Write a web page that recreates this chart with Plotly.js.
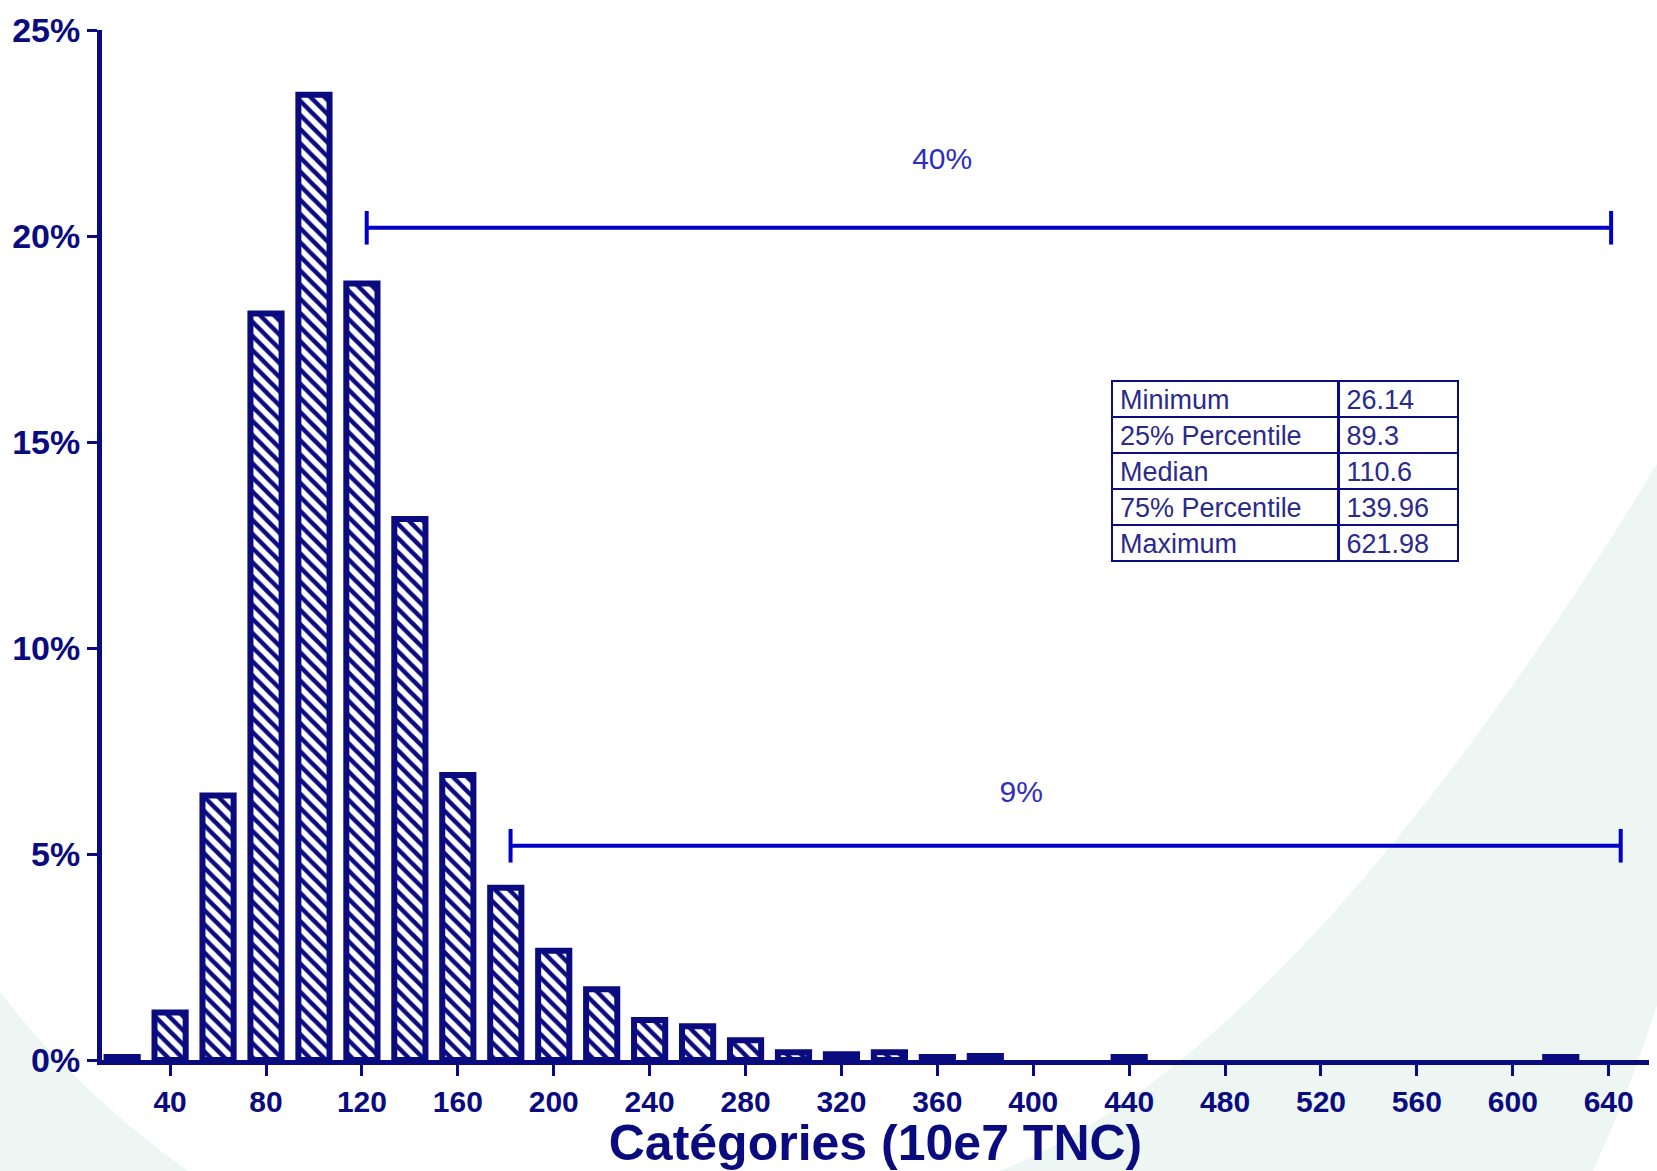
<!DOCTYPE html>
<html>
<head>
<meta charset="utf-8">
<script src="https://cdn.plot.ly/plotly-3.0.1.min.js"></script>
<style>
  html, body { margin: 0; padding: 0; background: #ffffff; }
  #chart { width: 1657px; height: 1171px; }
</style>
</head>
<body>
<div id="chart"></div>
<script>
// ---- data ----
const categories = [20, 40, 60, 80, 100, 120, 140, 160, 180, 200, 220, 240, 260, 280, 300,
                    320, 340, 360, 380, 400, 420, 440, 460, 480, 500, 520, 540, 560, 580, 600, 620];
const percentages = [0.07, 1.15, 6.42, 18.12, 23.43, 18.85, 13.13, 6.92, 4.18, 2.65, 1.72, 0.97, 0.82, 0.48, 0.19,
                     0.14, 0.19, 0.07, 0.10, 0, 0, 0.07, 0, 0, 0, 0, 0, 0, 0, 0, 0.07];
const xTickValues = [40, 80, 120, 160, 200, 240, 280, 320, 360, 400, 440, 480, 520, 560, 600, 640];
const yTickValues = [0, 5, 10, 15, 20, 25];
const yTickLabels = ['0%', '5%', '10%', '15%', '20%', '25%'];

const bracketLabels = ['40%', '9%'];
const bracketStart = [122, 182];
const bracketEnd = [641, 645];
const bracketLevel = [20.2, 5.2];
const bracketLabelX = [362, 395];
const bracketLabelY = [21.8, 6.44];

const statNames = ['Minimum', '25% Percentile', 'Median', '75% Percentile', 'Maximum'];
const statValues = ['26.14', '89.3', '110.6', '139.96', '621.98'];

// ---- styling ----
const NAVY = '#0b0b80';
const BLUE = '#0000c8';
const FONT = 'Liberation Sans, Arial, sans-serif';
const W = 1657, H = 1171;
const M = {l: 102, r: 8, t: 30, b: 111};
const PW = W - M.l - M.r, PH = H - M.t - M.b;
function px(xp) { return ((xp - M.l) / PW).toFixed(4); }
function py(yp) { return ((H - M.b - yp) / PH).toFixed(4); }

const xs = [], ys = [];
categories.forEach((c, i) => { if (percentages[i] > 0) { xs.push(c); ys.push(percentages[i]); } });

const traces = [];
traces.push({
  type: 'bar',
  x: xs,
  y: ys,
  width: 13,
  marker: {
    color: 'white',
    line: {color: NAVY, width: 6},
    pattern: {shape: '\\', fgcolor: NAVY, bgcolor: 'white', size: 10, solidity: 0.45, fillmode: 'replace'}
  },
  hoverinfo: 'x+y',
  showlegend: false
});

for (let i = 0; i < bracketLabels.length; i++) {
  traces.push({
    type: 'scatter',
    mode: 'lines+markers',
    x: [bracketStart[i], bracketEnd[i]],
    y: [bracketLevel[i], bracketLevel[i]],
    line: {color: BLUE, width: 4},
    marker: {symbol: 'line-ns', size: 24, line: {color: BLUE, width: 4}},
    showlegend: false,
    hoverinfo: 'skip',
    cliponaxis: false
  });
}
traces.push({
  type: 'scatter',
  mode: 'text',
  x: bracketLabelX,
  y: bracketLabelY,
  text: bracketLabels,
  textfont: {family: FONT, size: 30, color: '#2e2ec0'},
  showlegend: false,
  hoverinfo: 'skip'
});

traces.push({
  type: 'table',
  domain: {x: [0.6529, 0.8772], y: [0.4825, 0.6592]},
  columnwidth: [227, 120],
  header: {
    values: [statNames[0], statValues[0]],
    align: 'left',
    height: 36,
    line: {color: NAVY, width: 2.5},
    fill: {color: 'white'},
    font: {family: FONT, size: 27, color: '#2a2a8c'}
  },
  cells: {
    values: [statNames.slice(1), statValues.slice(1)],
    align: 'left',
    height: 36,
    line: {color: NAVY, width: 2.5},
    fill: {color: 'white'},
    font: {family: FONT, size: 27, color: '#2a2a8c'}
  }
});

const bg = '#edf6f2';
const shapes = [
  {
    type: 'path', xref: 'paper', yref: 'paper', layer: 'below',
    path: 'M ' + px(0) + ',' + py(992) + ' Q ' + px(75) + ',' + py(1090) + ' ' + px(188) + ',' + py(1171) +
          ' L ' + px(0) + ',' + py(1171) + ' Z',
    fillcolor: bg, line: {width: 0}
  },
  {
    type: 'path', xref: 'paper', yref: 'paper', layer: 'below',
    path: 'M ' + px(1657) + ',' + py(464) + ' Q ' + px(1300) + ',' + py(1050) + ' ' + px(1000) + ',' + py(1171) +
          ' L ' + px(1593) + ',' + py(1171) + ' Q ' + px(1630) + ',' + py(1090) + ' ' + px(1657) + ',' + py(1005) + ' Z',
    fillcolor: bg, line: {width: 0}
  }
];

const layout = {
  width: W, height: H,
  margin: M,
  paper_bgcolor: 'white',
  plot_bgcolor: 'rgba(0,0,0,0)',
  showlegend: false,
  bargap: 0,
  shapes: shapes,
  xaxis: {
    range: [11.6, 656.8],
    tickmode: 'array',
    tickvals: xTickValues,
    ticktext: xTickValues.map(String),
    ticks: 'outside', ticklen: 11, tickwidth: 3, tickcolor: NAVY,
    showline: true, linewidth: 5, linecolor: NAVY,
    showgrid: false, zeroline: false,
    tickfont: {family: FONT, size: 30, color: NAVY, weight: 'bold'},
    title: {text: 'Catégories (10e7 TNC)', font: {family: FONT, size: 50, color: NAVY, weight: 'bold'}, standoff: 10},
    fixedrange: true
  },
  yaxis: {
    range: [0, 25],
    tickmode: 'array',
    tickvals: yTickValues,
    ticktext: yTickLabels,
    ticks: 'outside', ticklen: 10, tickwidth: 3, tickcolor: NAVY,
    showline: true, linewidth: 5, linecolor: NAVY,
    showgrid: false, zeroline: false,
    tickfont: {family: FONT, size: 34, color: NAVY, weight: 'bold'},
    fixedrange: true
  }
};

Plotly.newPlot('chart', traces, layout, {displayModeBar: false, staticPlot: true});
</script>
</body>
</html>
